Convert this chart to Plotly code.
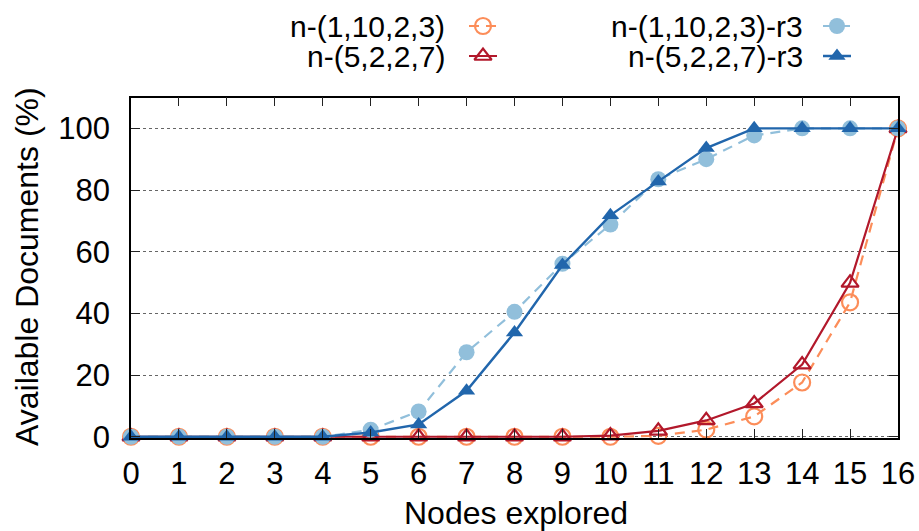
import plotly.graph_objects as go

# Nodes explored (x) and share of available documents (%) per configuration
nodes = list(range(17))
n_1_10_2_3 = [0, 0, 0, 0, 0, 0, 0, 0, 0, 0, 0, 0.3, 2.3, 6.6, 17.6, 43.6, 100]
n_5_2_2_7 = [0, 0, 0, 0, 0, 0, 0, 0, 0, 0, 0.4, 1.9, 5.3, 10.8, 23.4, 49.9, 100]
n_1_10_2_3_r3 = [0, 0, 0, 0, 0, 2.3, 8.2, 27.4, 40.5, 56.1, 68.8, 83.5, 90.0, 97.7, 100, 100, 100]
n_5_2_2_7_r3 = [0, 0, 0, 0, 0, 1.4, 4.0, 14.9, 33.8, 55.7, 71.8, 82.8, 93.6, 100, 100, 100, 100]

y_ticks = [0, 20, 40, 60, 80, 100]
x_title = "Nodes explored"
y_title = "Available Documents (%)"

ORANGE = "#fc8d59"
RED = "#b2182b"
LIGHTBLUE = "#91bfdb"
BLUE = "#2166ac"
DASH = "10px,7px"
FONT = "Liberation Sans, Arial, Helvetica, sans-serif"
FS = 31
FS_KEY = 30
FS_TITLE = 32

series = [
    dict(name="n-(1,10,2,3)", y=n_1_10_2_3, color=ORANGE, dash=DASH,
         symbol="circle-open", size=16, mlw=2.2, lw=2.2),
    dict(name="n-(5,2,2,7)", y=n_5_2_2_7, color=RED, dash="solid",
         symbol="triangle-up-open", size=15, mlw=2.2, lw=2.2),
    dict(name="n-(1,10,2,3)-r3", y=n_1_10_2_3_r3, color=LIGHTBLUE, dash=DASH,
         symbol="circle", size=16, mlw=0, lw=2.2),
    dict(name="n-(5,2,2,7)-r3", y=n_5_2_2_7_r3, color=BLUE, dash="solid",
         symbol="triangle-up", size=15, mlw=0, lw=2.4),
]

fig = go.Figure()

for s in series:
    fig.add_trace(go.Scatter(
        x=nodes, y=s["y"], mode="lines+markers", name=s["name"],
        line=dict(color=s["color"], width=s["lw"], dash=s["dash"]),
        marker=dict(symbol=s["symbol"], size=s["size"], color=s["color"],
                    line=dict(color=s["color"], width=s["mlw"])),
        cliponaxis=False, showlegend=False,
    ))

# Key drawn on its own pixel-unit axes above the plot: text right-aligned, sample to its right
key_layout = [
    # (text right edge, sample start, sample end, row centre)
    (446, 469, 497, 26),
    (446, 469, 497, 56),
    (804, 823, 851, 26),
    (804, 823, 851, 56),
]
for s, (tx, sx0, sx1, ry) in zip(series, key_layout):
    fig.add_trace(go.Scatter(
        x=[sx0, sx1], y=[ry, ry], mode="lines", xaxis="x2", yaxis="y2",
        line=dict(color=s["color"], width=s["lw"], dash=s["dash"]),
        showlegend=False, hoverinfo="skip", cliponaxis=False,
    ))
    fig.add_trace(go.Scatter(
        x=[(sx0 + sx1) / 2], y=[ry], mode="markers", xaxis="x2", yaxis="y2",
        marker=dict(symbol=s["symbol"], size=s["size"], color=s["color"],
                    line=dict(color=s["color"], width=s["mlw"])),
        showlegend=False, hoverinfo="skip", cliponaxis=False,
    ))
    fig.add_annotation(
        x=tx, y=ry, xref="x2", yref="y2", text=s["name"], showarrow=False,
        xanchor="right", yanchor="middle", borderpad=0,
        font=dict(family=FONT, size=FS_KEY, color="black"),
    )

W, H = 919, 531
ML, MR, MB = 131, 21, 93
plot_h = H - MB
plot_top_px = 97.5

fig.update_layout(
    width=W, height=H,
    margin=dict(l=ML, r=MR, t=0, b=MB, pad=0),
    plot_bgcolor="white", paper_bgcolor="white",
    font=dict(family=FONT, size=FS, color="black"),
    xaxis=dict(
        range=[0, 16], tickmode="array", tickvals=nodes,
        ticks="inside", ticklen=9, tickwidth=1, tickcolor="#222",
        showline=True, linecolor="black", linewidth=1.5, mirror="ticks",
        showgrid=False, zeroline=False, ticklabelstandoff=7,
        tickfont=dict(family=FONT, size=FS, color="black"),
    ),
    yaxis=dict(
        range=[-0.4, 110], domain=[0, (plot_h - plot_top_px) / plot_h],
        tickmode="array", tickvals=y_ticks,
        ticks="inside", ticklen=9, tickwidth=1, tickcolor="#222",
        showline=True, linecolor="black", linewidth=1.5, mirror="ticks",
        showgrid=True, gridcolor="#666", gridwidth=1, griddash="dot",
        zeroline=False, ticklabelstandoff=13,
        tickfont=dict(family=FONT, size=FS, color="black"),
    ),
    xaxis2=dict(range=[ML, W - MR], domain=[0, 1], anchor="y2",
                visible=False, fixedrange=True),
    yaxis2=dict(range=[0.2 * plot_h, 0], domain=[0.8, 1], anchor="x2",
                visible=False, fixedrange=True),
)

# Axis titles
fig.add_annotation(
    x=(516 - ML) / (W - ML - MR), y=(plot_h - 513) / plot_h, xref="paper", yref="paper",
    text=x_title, showarrow=False, xanchor="center", yanchor="middle",
    font=dict(family=FONT, size=FS_TITLE, color="black"),
)
fig.add_annotation(
    x=(27 - ML) / (W - ML - MR), y=(plot_h - 267) / plot_h, xref="paper", yref="paper",
    text=y_title, showarrow=False, textangle=-90, xanchor="center", yanchor="middle",
    font=dict(family=FONT, size=FS_TITLE, color="black"),
)

fig.write_html("out.html")
